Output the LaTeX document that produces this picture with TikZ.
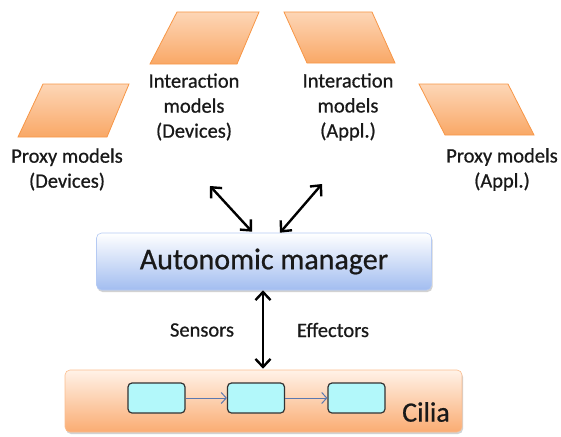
\documentclass[tikz,border=0pt]{standalone}
\usepackage{fontspec}
\setmainfont{Carlito}[RawFeature={embolden=0.7}]
\usetikzlibrary{arrows.meta,calc,shadows}
\definecolor{orB}{HTML}{F79646}
\definecolor{orT}{HTML}{FDD6B6}
\definecolor{orM}{HTML}{FBBF8F}
\definecolor{orD}{HTML}{F9A866}
\definecolor{blT}{HTML}{FFFFFF}
\definecolor{blM}{HTML}{CFDFFA}
\definecolor{blD}{HTML}{A2BDF0}
\definecolor{ciT}{HTML}{FFF2E8}
\definecolor{ciM}{HTML}{FFCEA6}
\definecolor{ciD}{HTML}{FAAC72}
\definecolor{cyanbox}{HTML}{B2F8FA}
\definecolor{flow}{HTML}{5A78B0}
\begin{document}
\begin{tikzpicture}[x=1pt,y=-1pt,
  para/.style={draw=orB, line width=0.8pt, top color=orT, bottom color=orD, middle color=orM},
  lbl/.style={font=\fontsize{20.5}{25}\selectfont, align=center, inner sep=0pt, text=black!90},
  mgr/.style={rounded corners=5pt, draw=blD!80!white, line width=0.6pt, top color=blT, middle color=blM, bottom color=blD,
     minimum width=335pt, minimum height=57pt, inner sep=0pt, font=\fontsize{30}{34}\selectfont, text=black!90,
     drop shadow={shadow xshift=1pt, shadow yshift=-2pt, fill=black!35, opacity=0.5}},
  ciliabox/.style={rounded corners=5pt, draw=ciD!80!white, line width=0.6pt, top color=ciT, middle color=ciM, bottom color=ciD,
     minimum width=397pt, minimum height=62pt, inner sep=0pt,
     drop shadow={shadow xshift=1pt, shadow yshift=-2pt, fill=black!35, opacity=0.5}},
  comp/.style={rounded corners=4pt, draw=black!80, line width=1.2pt, fill=cyanbox, minimum width=57pt, minimum height=30pt, inner sep=0pt},
  bigarrow/.style={line width=2.4pt, black, {Straight Barb[length=8pt,width=15pt,line width=2.4pt]}-{Straight Barb[length=8pt,width=15pt,line width=2.4pt]}},
  flowarrow/.style={line width=1pt, flow, -{Straight Barb[length=5pt,width=11pt]}}
]
\useasboundingbox (0,0) rectangle (561,436);

% parallelograms
\draw[para] (177,12) -- (259,12) -- (237,64) -- (150,64) -- cycle;
\draw[para] (43,84) -- (129,84) -- (107,137) -- (18,137) -- cycle;
\draw[para] (284,12) -- (372,12) -- (395,63) -- (307,63) -- cycle;
\draw[para] (419,84) -- (508,84) -- (534,135) -- (445,135) -- cycle;

% labels
\node[lbl] (intdev) at (194,107) {Interaction\\models\\(Devices)};
\node[lbl] (proxdev) at (67,169.5) {Proxy models\\(Devices)};
\node[lbl] (intapp) at (348,107) {Interaction\\models\\(Appl.)};
\node[lbl] (proxapp) at (502,169.5) {Proxy models\\(Appl.)};

% manager
\node[mgr] (am) at (264,261.5) {Autonomic manager};

% cilia
\node[ciliabox] (cilia) at (263.5,401) {};
\node[font=\fontsize{28}{32}\selectfont, text=black!90, inner sep=0pt] (cilialbl) at (426,412) {Cilia};
\node[comp] (c1) at (156.5,398) {};
\node[comp] (c2) at (256,398) {};
\node[comp] (c3) at (356.5,398) {};
\draw[flowarrow] (c1) -- (c2);
\draw[flowarrow] (c2) -- (c3);

% arrows
\coordinate (tl) at (210,186);
\coordinate (tr) at (322,184);
\draw[bigarrow] (tl) -- ($(am.north)+(-12,-1)$);
\draw[bigarrow] (tr) -- ($(am.north)+(16,0)$);
\draw[bigarrow] ($(am.south)+(-1,0)$) -- ($(cilia.north)+(-0.5,-1)$);

\node[lbl] (sens) at (202,330) {Sensors};
\node[lbl] (eff) at (333,330) {Effectors};
\end{tikzpicture}
\end{document}
